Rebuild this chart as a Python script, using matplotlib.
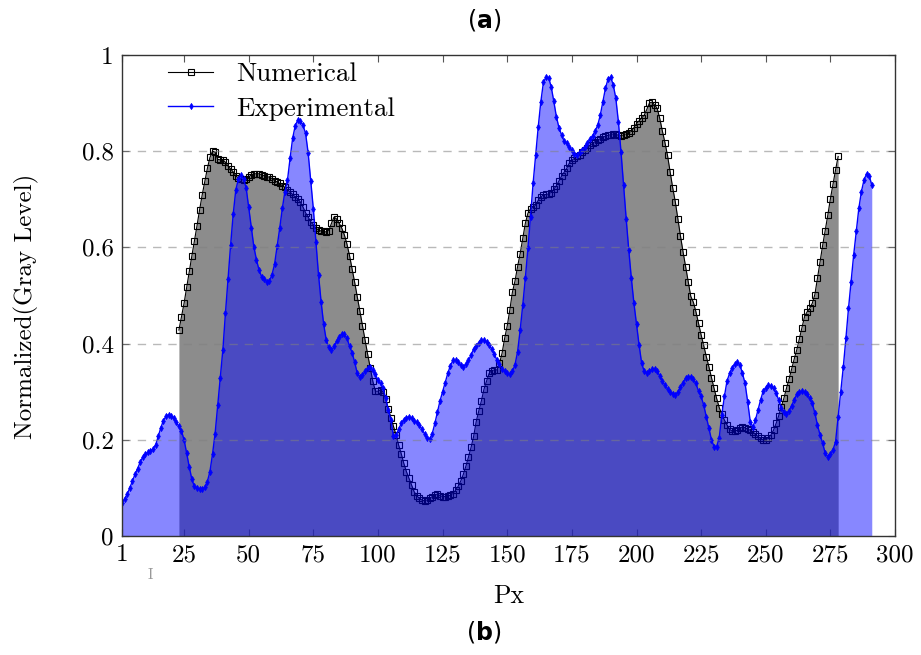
import matplotlib
matplotlib.use("Agg")
import matplotlib.pyplot as plt
import numpy as np

plt.rcParams["font.family"] = ["cmr10", "DejaVu Serif"]
plt.rcParams["axes.formatter.use_mathtext"] = True

# Experimental profile, one value per pixel starting at Px = 1
experimental = [
    0.068, 0.077, 0.087, 0.100, 0.114, 0.128, 0.140, 0.153, 0.164, 0.170,
    0.174, 0.177, 0.181, 0.189, 0.207, 0.225, 0.240, 0.249, 0.252, 0.250,
    0.245, 0.236, 0.228, 0.218, 0.200, 0.172, 0.144, 0.118, 0.103, 0.099,
    0.098, 0.097, 0.101, 0.113, 0.134, 0.170, 0.213, 0.272, 0.329, 0.387,
    0.463, 0.534, 0.605, 0.669, 0.719, 0.742, 0.750, 0.742, 0.724, 0.683,
    0.641, 0.601, 0.574, 0.553, 0.539, 0.534, 0.529, 0.530, 0.543, 0.565,
    0.602, 0.640, 0.681, 0.716, 0.740, 0.785, 0.827, 0.853, 0.865, 0.863,
    0.854, 0.837, 0.796, 0.737, 0.680, 0.612, 0.543, 0.487, 0.440, 0.407,
    0.392, 0.386, 0.394, 0.405, 0.414, 0.420, 0.419, 0.411, 0.395, 0.381,
    0.361, 0.338, 0.331, 0.335, 0.342, 0.349, 0.352, 0.345, 0.336, 0.324,
    0.317, 0.307, 0.286, 0.262, 0.241, 0.207, 0.210, 0.222, 0.234, 0.242,
    0.246, 0.248, 0.245, 0.240, 0.236, 0.231, 0.222, 0.213, 0.204, 0.201,
    0.213, 0.234, 0.257, 0.281, 0.300, 0.319, 0.338, 0.354, 0.365, 0.365,
    0.361, 0.356, 0.352, 0.357, 0.365, 0.376, 0.389, 0.395, 0.402, 0.407,
    0.407, 0.403, 0.397, 0.389, 0.378, 0.366, 0.357, 0.347, 0.342, 0.338,
    0.336, 0.342, 0.356, 0.383, 0.428, 0.480, 0.536, 0.598, 0.664, 0.733,
    0.793, 0.851, 0.903, 0.943, 0.954, 0.953, 0.934, 0.904, 0.872, 0.849,
    0.834, 0.821, 0.816, 0.809, 0.802, 0.794, 0.792, 0.798, 0.802, 0.809,
    0.818, 0.825, 0.832, 0.842, 0.854, 0.875, 0.903, 0.931, 0.950, 0.954,
    0.938, 0.910, 0.861, 0.799, 0.730, 0.660, 0.595, 0.536, 0.484, 0.440,
    0.397, 0.359, 0.342, 0.338, 0.342, 0.347, 0.347, 0.343, 0.333, 0.322,
    0.314, 0.306, 0.300, 0.296, 0.293, 0.299, 0.309, 0.319, 0.328, 0.331,
    0.331, 0.326, 0.317, 0.301, 0.290, 0.272, 0.248, 0.224, 0.200, 0.186,
    0.186, 0.204, 0.252, 0.290, 0.322, 0.338, 0.350, 0.357, 0.361, 0.356,
    0.338, 0.317, 0.279, 0.238, 0.227, 0.241, 0.262, 0.283, 0.301, 0.308,
    0.313, 0.312, 0.307, 0.297, 0.283, 0.267, 0.257, 0.254, 0.260, 0.271,
    0.283, 0.295, 0.300, 0.301, 0.300, 0.295, 0.286, 0.276, 0.255, 0.231,
    0.210, 0.193, 0.172, 0.165, 0.170, 0.179, 0.196, 0.248, 0.300, 0.352,
    0.411, 0.473, 0.529, 0.584, 0.633, 0.681, 0.716, 0.740, 0.753, 0.749,
    0.730,
]

# Numerical profile, starting at Px = 23
numerical_start = 23
numerical = [
    0.428, 0.456, 0.484, 0.517, 0.550, 0.582, 0.613, 0.645,
    0.678, 0.709, 0.737, 0.764, 0.787, 0.800, 0.798, 0.783, 0.782, 0.782,
    0.777, 0.769, 0.763, 0.757, 0.749, 0.744, 0.742, 0.740, 0.742, 0.746,
    0.751, 0.753, 0.753, 0.753, 0.751, 0.749, 0.747, 0.746, 0.743, 0.739,
    0.736, 0.733, 0.728, 0.725, 0.720, 0.715, 0.710, 0.705, 0.701, 0.694,
    0.684, 0.672, 0.663, 0.653, 0.647, 0.640, 0.636, 0.634, 0.633, 0.632,
    0.635, 0.650, 0.663, 0.659, 0.650, 0.640, 0.626, 0.607, 0.583, 0.555,
    0.527, 0.497, 0.468, 0.437, 0.407, 0.378, 0.350, 0.322, 0.301, 0.301,
    0.304, 0.299, 0.285, 0.264, 0.246, 0.228, 0.210, 0.189, 0.171, 0.151,
    0.134, 0.120, 0.106, 0.092, 0.084, 0.078, 0.075, 0.073, 0.075, 0.078,
    0.082, 0.086, 0.087, 0.084, 0.082, 0.082, 0.083, 0.085, 0.088, 0.095,
    0.103, 0.114, 0.128, 0.145, 0.164, 0.184, 0.207, 0.238, 0.260, 0.281,
    0.305, 0.322, 0.338, 0.344, 0.345, 0.345, 0.359, 0.380, 0.411, 0.437,
    0.470, 0.507, 0.530, 0.560, 0.587, 0.619, 0.650, 0.671, 0.680, 0.683,
    0.688, 0.698, 0.705, 0.709, 0.710, 0.711, 0.714, 0.721, 0.728, 0.738,
    0.748, 0.756, 0.764, 0.775, 0.781, 0.785, 0.789, 0.793, 0.798, 0.802,
    0.807, 0.812, 0.816, 0.820, 0.823, 0.826, 0.829, 0.831, 0.833, 0.834,
    0.836, 0.835, 0.833, 0.832, 0.834, 0.836, 0.838, 0.841, 0.849, 0.857,
    0.863, 0.869, 0.875, 0.887, 0.900, 0.902, 0.896, 0.889, 0.868, 0.842,
    0.818, 0.791, 0.757, 0.724, 0.695, 0.659, 0.624, 0.591, 0.560, 0.529,
    0.498, 0.486, 0.466, 0.442, 0.418, 0.396, 0.373, 0.352, 0.329, 0.307,
    0.286, 0.267, 0.253, 0.241, 0.231, 0.222, 0.218, 0.218, 0.220, 0.224,
    0.227, 0.225, 0.222, 0.220, 0.217, 0.211, 0.207, 0.203, 0.200, 0.200,
    0.203, 0.210, 0.220, 0.234, 0.250, 0.269, 0.286, 0.307, 0.326, 0.347,
    0.368, 0.387, 0.410, 0.432, 0.456, 0.466, 0.473, 0.484, 0.502, 0.536,
    0.570, 0.604, 0.635, 0.667, 0.701, 0.731, 0.761, 0.789,
]

x_ticks = [1, 25, 50, 75, 100, 125, 150, 175, 200, 225, 250, 275, 300]
y_ticks = [0, 0.2, 0.4, 0.6, 0.8, 1]
y_tick_labels = ["0", "0.2", "0.4", "0.6", "0.8", "1"]

x_exp = np.arange(1, 1 + len(experimental))
x_num = np.arange(numerical_start, numerical_start + len(numerical))

fig = plt.figure(figsize=(9.21, 6.55), dpi=100)
ax = fig.add_axes([0.1325, 0.1817, 0.8393, 0.7344])

# Numerical: grey area + black squares
ax.fill_between(x_num, 0, numerical, color="#8c8c8c", lw=0, zorder=1)
ax.plot(x_num, numerical, color="black", lw=0.8, marker="s", ms=4.5,
        mfc="none", mec="black", mew=0.8, label="Numerical", zorder=2)

# Experimental: translucent blue area + blue diamonds
ax.fill_between(x_exp, 0, experimental, color="#0000ff", alpha=0.47, lw=0, zorder=3)
ax.plot(x_exp, experimental, color="#0000ff", lw=1.0, marker="d", ms=3.2,
        mfc="#0000ff", mec="#0000ff", mew=0.5, label="Experimental", zorder=4)

# dashed grid on top of the fills
for yv in y_ticks[1:-1]:
    ax.axhline(yv, color="gray", alpha=0.55, lw=1.0, ls=(0, (6, 5)), zorder=5)

ax.set_xlim(1, 300)
ax.set_ylim(0, 1)
ax.set_xticks(x_ticks)
ax.set_xticklabels([str(t) for t in x_ticks])
ax.set_yticks(y_ticks)
ax.set_yticklabels(y_tick_labels)
ax.tick_params(direction="in", top=True, right=True, length=5, width=0.8,
               color="#555555", labelsize=18, pad=6)
for sp in ax.spines.values():
    sp.set_color("#333333")
    sp.set_linewidth(1.0)
    sp.set_zorder(6)

ax.set_xlabel("Px", fontsize=18.5)
ax.xaxis.set_label_coords(0.5, -0.10)
ax.set_ylabel("Normalized(Gray Level)", fontsize=18)
ax.yaxis.set_label_coords(-0.107, 0.478)

leg = ax.legend(loc="upper left", bbox_to_anchor=(0.06, 0.985), frameon=False,
                fontsize=19.5, numpoints=1, handlelength=1.65, handletextpad=0.85,
                labelspacing=0.4, borderpad=0, borderaxespad=0)
leg.set_zorder(7)

fig.text(484 / 921, 1 - 20 / 655, r"($\mathbf{a}$)", ha="center", va="center",
         fontsize=17, family="DejaVu Sans")
fig.text(484 / 921, 1 - 632 / 655, r"($\mathbf{b}$)", ha="center", va="center",
         fontsize=17, family="DejaVu Sans")
fig.text(150 / 921, 1 - 575 / 655, "I", ha="center", va="center",
         fontsize=11, color="#999999")

fig.savefig("out.png", dpi=100)
